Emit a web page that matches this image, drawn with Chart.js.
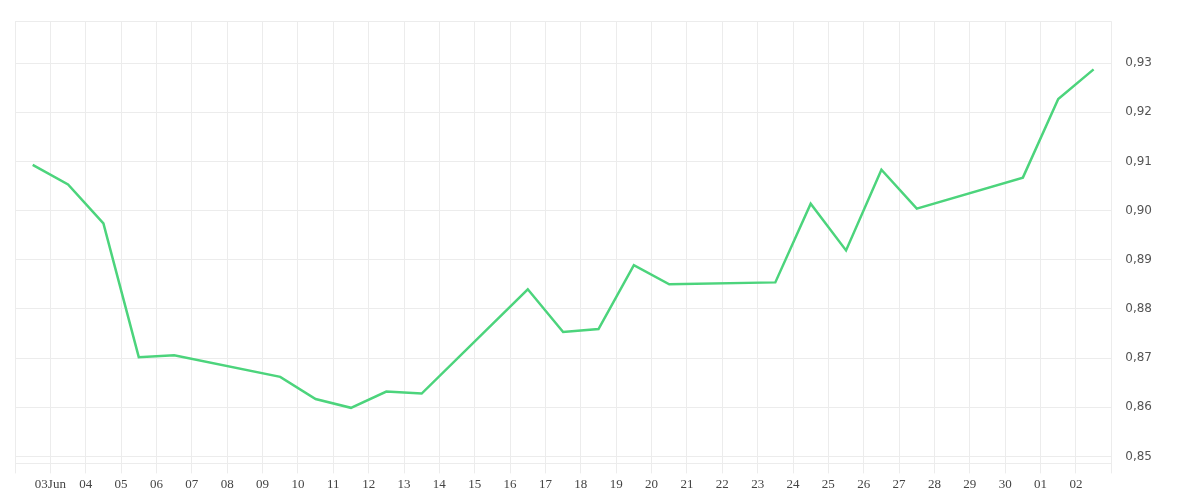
<!DOCTYPE html>
<html><head><meta charset="utf-8">
<script src="https://cdn.jsdelivr.net/npm/chart.js@4"></script>
<style>html,body{margin:0;background:#fff}#w{width:1200px;height:500px}</style>
</head><body><div id="w"><canvas id="c"></canvas></div>
<script>
const dayLabels=["03Jun","04","05","06","07","08","09","10","11","12","13","14","15","16","17","18","19","20","21","22","23","24","25","26","27","28","29","30","01","02"];
const pointDays=[-0.5,0.5,1.5,2.5,3.5,6.5,7.5,8.5,9.5,10.5,13.5,14.5,15.5,16.5,17.5,20.5,21.5,22.5,23.5,24.5,27.5,28.5,29.5];
const values=[0.9093,0.9053,0.8974,0.8702,0.8706,0.8662,0.8617,0.8599,0.8632,0.8628,0.8840,0.8753,0.8759,0.8889,0.8850,0.8854,0.9014,0.8919,0.9083,0.9004,0.9067,0.9227,0.9287];
const yTicks=[0.85,0.86,0.87,0.88,0.89,0.90,0.91,0.92,0.93];
const xfont={family:"'Liberation Serif', serif",size:13};
const yfont={family:"'DejaVu Sans', sans-serif",size:12};
new Chart(document.getElementById('c'),{
type:'line',
data:{datasets:[{data:pointDays.map((d,i)=>({x:d,y:values[i]})),borderColor:'#4cd47c',borderWidth:2.5,pointRadius:0,tension:0,fill:false}]},
options:{responsive:true,maintainAspectRatio:false,animation:false,
layout:{padding:{left:15,right:34,top:4,bottom:5}},
plugins:{legend:{display:false},tooltip:{enabled:false}},
scales:{
x:{type:'linear',min:-1,max:30,afterBuildTicks:a=>{a.ticks=[];for(let i=-1;i<=30;i++)a.ticks.push({value:i});},
ticks:{autoSkip:false,maxRotation:0,color:'#444',font:xfont,callback:v=>(v>=0&&v<dayLabels.length)?dayLabels[v]:''},
grid:{color:'#ececec',tickLength:10},border:{color:'#ececec'}},
y:{position:'right',min:0.8486,max:0.9385,
afterBuildTicks:a=>{a.ticks=[{value:0.8486}].concat(yTicks.map(v=>({value:v})),[{value:0.9385}]);},
ticks:{color:'#555',font:yfont,padding:14,callback:v=>yTicks.some(t=>Math.abs(t-v)<1e-9)?v.toFixed(2).replace('.',','):''},
grid:{color:'#ececec',tickLength:0},border:{display:false}}
}}});
</script></body></html>
